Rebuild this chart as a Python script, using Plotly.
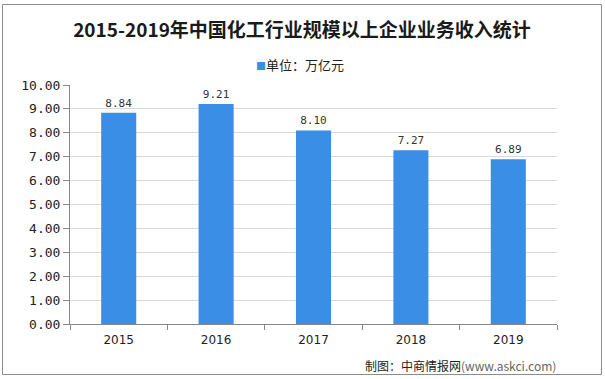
import plotly.graph_objects as go

years = ["2015", "2016", "2017", "2018", "2019"]
revenue = [8.84, 9.21, 8.10, 7.27, 6.89]
value_labels = ["8.84", "9.21", "8.10", "7.27", "6.89"]
y_ticks = [0, 1, 2, 3, 4, 5, 6, 7, 8, 9, 10]

title_text = "2015-2019年中国化工行业规模以上企业业务收入统计"
series_name = "单位：万亿元"
source_text = "制图：中商情报网<span style='color:#666'>(www.askci.com)</span>"

bar_color = "#3a8ee6"
font_cjk = "Noto Sans CJK SC, Noto Sans, sans-serif"

L, R, T, B = 70, 48, 85, 55
W, H = 605, 379
PW, PH = W - L - R, H - T - B

fig = go.Figure()
fig.add_trace(go.Bar(
    x=years, y=revenue, name=series_name,
    marker=dict(color=bar_color, line=dict(width=0)),
    width=0.36,
    text=value_labels, textposition="outside",
    textfont=dict(size=11, color="#333333", family="DejaVu Sans Mono, monospace"),
    cliponaxis=False, showlegend=False,
))

fig.update_layout(
    width=W, height=H,
    margin=dict(l=L, r=R, t=T, b=B),
    paper_bgcolor="white", plot_bgcolor="white",
    title=dict(text="<b>" + title_text + "</b>", x=302 / W, xanchor="center",
               xref="container", y=1 - 30 / H, yanchor="middle",
               font=dict(size=19, color="#1a1a1a", family=font_cjk)),
    showlegend=False,
    xaxis=dict(
        type="category", showline=True, linecolor="#888888", linewidth=1,
        ticks="outside", tickson="boundaries", ticklen=5, tickcolor="#888888",
        ticklabelstandoff=5,
        tickfont=dict(size=12, color="#222222", family="DejaVu Sans, sans-serif"),
        showgrid=False,
    ),
    yaxis=dict(
        range=[0, 10], tickvals=y_ticks, tickformat=".2f",
        showline=True, linecolor="#888888", linewidth=1,
        ticks="outside", ticklen=6, tickcolor="#888888",
        tickfont=dict(size=13, color="#222222", family="DejaVu Sans Mono, monospace"),
        showgrid=True, gridcolor="#d9d9d9", gridwidth=1, zeroline=False,
    ),
    font=dict(family=font_cjk),
)

# legend-style caption
fig.add_annotation(
    text="<span style='color:" + bar_color + ";font-size:10px'>■</span>" + series_name,
    xref="paper", yref="paper", x=(300 - L) / PW, y=(H - B - 64) / PH,
    xanchor="center", yanchor="middle", showarrow=False,
    font=dict(size=13, color="#222222", family=font_cjk),
)

fig.add_annotation(
    text=source_text, xref="paper", yref="paper", x=(558 - L) / PW,
    y=-(365 - (H - B)) / PH,
    xanchor="right", yanchor="middle", showarrow=False,
    font=dict(size=12, color="#222222", family=font_cjk),
)

fig.add_shape(type="rect", xref="paper", yref="paper",
              x0=-(L - 2.5) / PW, x1=(601.5 - L) / PW,
              y0=-(374.5 - (H - B)) / PH, y1=((H - B) - 4.5) / PH,
              line=dict(color="#8c8c8c", width=1), layer="below")

fig.write_html("out.html",
               config={"displayModeBar": False},
               post_script="document.body.style.margin='0';document.body.style.overflow='hidden';")
